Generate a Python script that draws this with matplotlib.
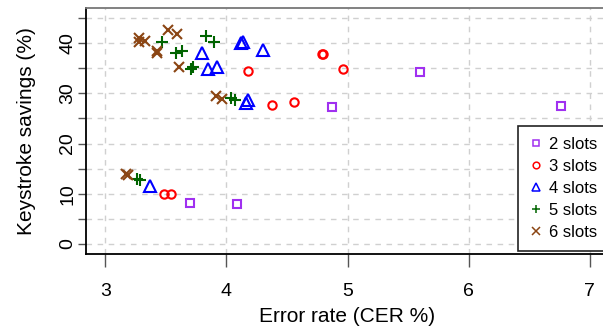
import matplotlib
matplotlib.use("Agg")
import matplotlib.pyplot as plt
from matplotlib.ticker import MultipleLocator

plt.rcParams['font.family'] = ['Liberation Sans', 'DejaVu Sans']

labels = ["2 slots", "3 slots", "4 slots", "5 slots", "6 slots"]
colors = ["#A030F0", "#FF0000", "#0000FF", "#006400", "#8B4513"]
markers = ["s", "o", "^", "+", "x"]

cer_2 = [5.60, 6.76, 4.875, 3.70, 4.085]
ks_2 = [34.2, 27.5, 27.2, 8.2, 7.95]

cer_3 = [4.79, 4.80, 4.962, 4.18, 4.377, 4.558, 3.486, 3.54]
ks_3 = [37.8, 37.9, 34.9, 34.5, 27.6, 28.2, 10.0, 9.94]

cer_4 = [4.12, 4.135, 4.306, 3.80, 3.846, 3.92, 4.16, 4.175, 3.37]
ks_4 = [40.1, 40.3, 38.6, 38.1, 34.9, 35.3, 28.1, 28.6, 11.6]

cer_5 = [3.827, 3.90, 3.464, 3.58, 3.63, 3.71, 3.72, 4.04, 4.07, 3.26, 3.29]
ks_5 = [41.4, 40.3, 40.2, 38.1, 38.4, 34.9, 35.2, 29.1, 28.6, 13.0, 12.8]

cer_6 = [3.277, 3.28, 3.33, 3.514, 3.593, 3.428, 3.423, 3.607, 3.912, 3.967, 3.17, 3.19]
ks_6 = [41.0, 40.2, 40.4, 42.5, 41.8, 38.4, 38.0, 35.2, 29.5, 28.9, 14.0, 13.8]

xs = [cer_2, cer_3, cer_4, cer_5, cer_6]
ys = [ks_2, ks_3, ks_4, ks_5, ks_6]

fig = plt.figure(figsize=(6.03, 3.28), dpi=100)
ax = fig.add_axes([86/603, 1-254/328, 1-86/603+0.01, (254-8)/328])

sizes = [6, 6, 8, 8, 7]
for x, y, lab, c, m, s in zip(xs, ys, labels, colors, markers, sizes):
    ax.plot(x, y, linestyle='none', marker=m, markersize=s, markerfacecolor='none',
            markeredgecolor=c, markeredgewidth=1.5, label=lab)

ax.set_xlim(2.84, 7.11 + 0.01*4.27/0.857)
ax.set_ylim(-1.99, 46.97)

ax.xaxis.set_major_locator(MultipleLocator(1))
ax.yaxis.set_major_locator(MultipleLocator(10))
ax.yaxis.set_minor_locator(MultipleLocator(5))

ax.grid(True, which='both', axis='y', color='#d0d0d0', linestyle=(0, (4, 4)), linewidth=1)
ax.grid(True, which='major', axis='x', color='#d0d0d0', linestyle=(0, (4, 4)), linewidth=1)
ax.set_axisbelow(True)

ax.tick_params(axis='x', which='major', length=9, width=1, color='#555555',
               labelsize=14, pad=12)
ax.tick_params(axis='y', which='both', length=6, width=1, color='#555555',
               labelsize=14, pad=1)
for t in ax.get_yticklabels():
    t.set_rotation(90)
    t.set_va('center')

ax.spines['left'].set_color('black')
ax.spines['bottom'].set_color('black')
ax.spines['left'].set_linewidth(1.3)
ax.spines['bottom'].set_linewidth(1.3)
ax.spines['top'].set_color('#777777')
ax.spines['top'].set_linewidth(1.3)
ax.spines['right'].set_visible(False)

ax.set_xlabel("Error rate (CER %)", fontsize=15, labelpad=5)
ax.set_ylabel("Keystroke savings (%)", fontsize=15, labelpad=17)

leg = ax.legend(loc='upper left', bbox_to_anchor=(518/603, 1-126/328),
                bbox_transform=fig.transFigure, fontsize=12, frameon=True,
                fancybox=False, edgecolor='#222222', framealpha=1,
                handlelength=0.8, handletextpad=0.4, labelspacing=0.42,
                borderpad=0.65, borderaxespad=0, markerscale=0.8)
leg.get_frame().set_linewidth(1.2)
for h in leg.legend_handles:
    h.set_markeredgewidth(1.1)

fig.savefig("out.png", dpi=100)
